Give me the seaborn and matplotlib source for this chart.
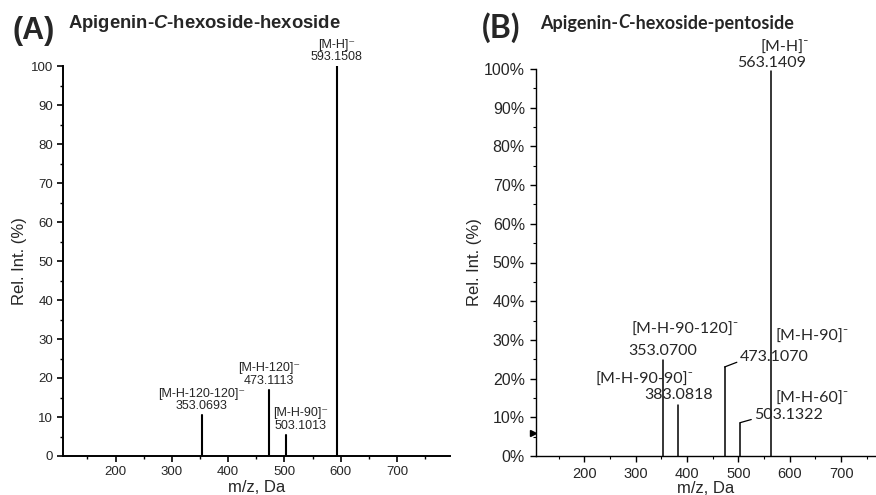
import numpy as np
import pandas as pd
import seaborn as sns
import matplotlib.pyplot as plt
from matplotlib.ticker import MultipleLocator, FuncFormatter
from matplotlib.transforms import offset_copy

# ==================== 数据 ====================
# (A) Apigenin-C-hexoside-hexoside
mz_a = [353.0693, 473.1113, 503.1013, 593.1508]
int_a = [10.4, 17.0, 5.5, 100.0]
ion_a = ['[M-H-120-120]⁻', '[M-H-120]⁻', '[M-H-90]⁻', '[M-H]⁻']

# (B) Apigenin-C-hexoside-pentoside
mz_b = [353.0700, 383.0818, 473.1070, 503.1322, 563.1409]
int_b = [24.8, 13.2, 23.0, 8.6, 99.5]
ion_b = ['[M-H-90-120]⁻', '[M-H-90-90]⁻', '[M-H-90]⁻', '[M-H-60]⁻', '[M-H]⁻']
trigger_b = 6.0

x_ticks = [200, 300, 400, 500, 600, 700]

sns.set_theme(style='ticks')
plt.rcParams['font.family'] = ['Liberation Sans', 'DejaVu Sans']
plt.rcParams['mathtext.fontset'] = 'custom'
plt.rcParams['mathtext.bfit'] = 'Liberation Sans:italic:bold'
plt.rcParams['mathtext.bf'] = 'Liberation Sans:bold'
FONT_A = ['Liberation Sans', 'DejaVu Sans']
FONT_B = ['Lato', 'DejaVu Sans']


def stems(mz, inten):
    # 每个峰两个点 (mz, 0) -> (mz, 强度)，按峰分组画竖线
    return pd.DataFrame({
        'mz': np.repeat(mz, 2),
        'rel': np.ravel([[0.0, v] for v in inten]),
        'peak': np.repeat(np.arange(len(mz)), 2),
    })


fig = plt.figure(figsize=(8.76, 4.95), dpi=100)
W, H = 876, 495


def px_axes(l, t, r, b):
    return fig.add_axes([l / W, 1 - b / H, (r - l) / W, (b - t) / H])


ax1 = px_axes(62.7, 66, 450, 456)
ax2 = px_axes(536, 69, 876, 456)

# -------------------- (A) --------------------
sns.lineplot(data=stems(mz_a, int_a), x='mz', y='rel', units='peak', estimator=None,
             sort=False, color='black', lw=1.5, legend=False, ax=ax1)
ax1.set_xlim(106, 794)
ax1.set_ylim(0, 100)
ax1.set_xticks(x_ticks)
ax1.yaxis.set_major_locator(MultipleLocator(10))
ax1.yaxis.set_minor_locator(MultipleLocator(5))
ax1.xaxis.set_minor_locator(MultipleLocator(50))
ax1.tick_params(which='major', length=4, width=1.2, labelsize=9.5, pad=3, color='black')
ax1.tick_params(which='minor', length=2, width=1.0, color='black')
ax1.set_xlabel('m/z, Da', fontsize=12, labelpad=2)
ax1.set_ylabel('Rel. Int. (%)', fontsize=12, labelpad=3)
for s in ['left', 'bottom']:
    ax1.spines[s].set_linewidth(1.4)
    ax1.spines[s].set_color('black')
sns.despine(ax=ax1)

dx_a = [0, 0, 14, 0]
for mz, h, ion, dx in zip(mz_a, int_a, ion_a, dx_a):
    ax1.annotate(f'{ion}\n{mz:.4f}', xy=(mz, h), xytext=(dx, 3), textcoords='offset pixels',
                 ha='center', va='bottom', fontsize=9, linespacing=1.05, family=FONT_A,
                 annotation_clip=False)

# -------------------- (B) --------------------
sns.lineplot(data=stems(mz_b, int_b), x='mz', y='rel', units='peak', estimator=None,
             sort=False, color='black', lw=1.1, legend=False, ax=ax2)
ax2.set_xlim(106, 768)
ax2.set_ylim(0, 100)
ax2.set_xticks(x_ticks)
ax2.yaxis.set_major_locator(MultipleLocator(10))
ax2.yaxis.set_minor_locator(MultipleLocator(5))
ax2.xaxis.set_minor_locator(MultipleLocator(50))
ax2.yaxis.set_major_formatter(FuncFormatter(lambda v, p: f'{v:.0f}%'))
ax2.tick_params(which='major', length=4, width=1.0, labelsize=11.5, pad=4, color='black')
ax2.tick_params(axis='x', labelsize=10.5)
ax2.tick_params(which='minor', length=2, width=0.8, color='black')
ax2.set_xlabel('m/z, Da', fontsize=12, labelpad=0)
ax2.set_ylabel('Rel. Int. (%)', fontsize=12, labelpad=1)
for s in ['left', 'bottom']:
    ax2.spines[s].set_linewidth(1.0)
    ax2.spines[s].set_color('black')
sns.despine(ax=ax2)

# 轴左侧的小三角标记，尖端贴住 y 轴
tri_tf = offset_copy(ax2.transData, fig=fig, x=-3, y=0, units='dots')
ax2.plot([ax2.get_xlim()[0]], [trigger_b], marker='>', ms=5, color='black',
         clip_on=False, transform=tri_tf)

# 数值标签 / 离子标签的像素偏移
num_off = [(0, 9), (0, 10), (50, 10), (49, 8), (1, 8)]
ion_off = [(22, 30), (-34, 25), (88, 30), (72, 24), (14, 23)]
leader = [False, False, True, True, False]
for mz, h, ion, no, io, ld in zip(mz_b, int_b, ion_b, num_off, ion_off, leader):
    kw = dict(xy=(mz, h), textcoords='offset pixels', ha='center', va='center',
              fontsize=11.5, family=FONT_B, annotation_clip=False)
    if ld:
        kw['arrowprops'] = dict(arrowstyle='-', color='black', lw=0.9, shrinkA=0, shrinkB=0,
                                relpos=(0.02, 0.25))
    ax2.annotate(f'{mz:.4f}', xytext=no, **kw)
    kw.pop('arrowprops', None)
    ax2.annotate(ion, xytext=io, **kw)


# -------------------- 标题 --------------------
def rich_text(x, y, parts, **kw):
    renderer = fig.canvas.get_renderer()
    for s, style in parts:
        t = fig.text(x / W, 1 - y / H, s, style=style, va='center', ha='left', **kw)
        x += t.get_window_extent(renderer).width


fig.text(13 / W, 1 - 31 / H, '(A)', fontsize=22, fontweight='bold', va='center', family=FONT_A)
fig.text(68 / W, 1 - 24 / H, r'Apigenin-$\mathbfit{C}$-hexoside-hexoside', fontsize=13.3,
         fontweight='bold', va='center', ha='left', family=FONT_A)
fig.text(482 / W, 1 - 28 / H, '(B)', fontsize=23, fontweight='bold', va='center', family=FONT_B)
rich_text(540, 23, [('Apigenin-', 'normal'), ('C', 'italic'), ('-hexoside-pentoside', 'normal')],
          fontsize=13, fontweight='bold', family=FONT_B)

fig.savefig('out.png', dpi=100)
